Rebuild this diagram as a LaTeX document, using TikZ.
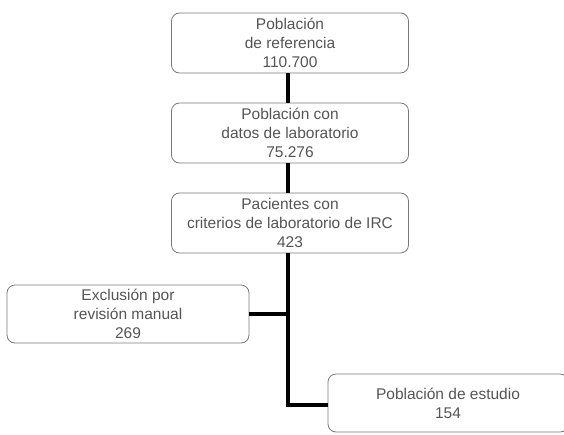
\documentclass[tikz,border=0pt]{standalone}
\usepackage{fontspec}
\setmainfont{Liberation Sans}
\definecolor{txt}{HTML}{555555}
\definecolor{bord}{HTML}{7A7A7A}
\begin{document}
\begin{tikzpicture}[x=1pt,y=-1pt,
  box/.style={draw=bord,line width=0.8pt,rounded corners=8pt,align=center,
    text=txt,font=\fontsize{15.5}{19}\selectfont,inner sep=0pt},
  conn/.style={line width=3.3pt,black}]
\useasboundingbox (0,0) rectangle (564,434);
\node[box,minimum width=237pt,minimum height=60pt] (b1) at (290,43) {Población\\de referencia\\110.700};
\node[box,minimum width=237pt,minimum height=60pt] (b2) at (290,133) {Población con\\datos de laboratorio\\75.276};
\node[box,minimum width=237pt,minimum height=60pt] (b3) at (290,223) {Pacientes con\\criterios de laboratorio de IRC\\423};
\node[box,minimum width=242pt,minimum height=58pt] (ex) at (128,314) {Exclusión por\\revisión manual\\269};
\node[box,minimum width=240pt,minimum height=58pt] (st) at (448,403) {Población de estudio\\154};
\coordinate (corner) at (288,405);
\draw[conn] (b1.south -| corner) -- (b2.north -| corner);
\draw[conn] (b2.south -| corner) -- (b3.north -| corner);
\draw[conn] (b3.south -| corner) -- (corner) -- (corner -| st.west);
\draw[conn] (ex.east) -- (ex.east -| corner);
\end{tikzpicture}
\end{document}
